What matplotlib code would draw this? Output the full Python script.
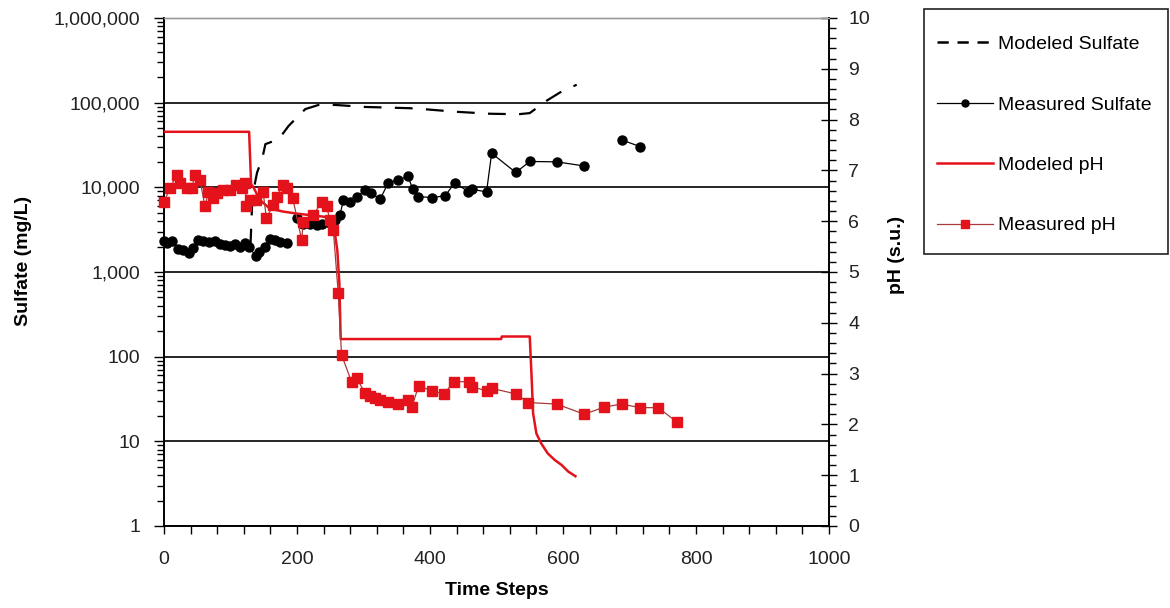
import numpy as np
import matplotlib.pyplot as plt
from matplotlib.ticker import FuncFormatter, MultipleLocator, LogLocator
from matplotlib.lines import Line2D
from matplotlib.patches import Rectangle

plt.rcParams['font.family'] = ['Liberation Sans', 'DejaVu Sans']
plt.rcParams['font.size'] = 14

nan = np.nan

# modeled sulfate (mg/L)
mod_so4_t = [130, 133, 140, 147.5, 152.5, 172.5, 187.5, 212.5, 232.5, 257.5, 302.5,
             347.5, 370, 397.5, 440, 490, 533, 550, 575, 595.5, 620.6]
mod_so4 = [2000, 8000, 15000, 21500, 32400, 37000, 53300, 84000, 94000, 94000, 89000,
           87000, 86000, 83000, 78000, 74000, 73000, 75300, 105000, 132000, 163000]

# measured sulfate (mg/L), nan = break in line
meas_so4_t = [0, 4, 11.5, 21.5, 29, 38, 44, 51.6, 59, 68, 76.7, 84, 91.7, 99, 106.8, 114,
              122, 128, 138, 143, 152, 159.4, 167, 174.4, 184.5, nan,
              199.5, 209.5, 219.5, 229.6, 237, 249.6, 257, 264.7, 269.6, 279.7, 289.7,
              302, 312, 325, 337, 352, 367, 374, 382, 402.5, 422.6, 437.6, 457.6, 462.7,
              485, 492.7, 529, 550, 590.5, 631.6, nan, 688, 715.8]
meas_so4 = [2335, 2210, 2335, 1850, 1815, 1690, 1900, 2380, 2335, 2270, 2335, 2135, 2080,
            2025, 2135, 1985, 2180, 1985, 1540, 1735, 1985, 2425, 2380, 2270, 2180, nan,
            4300, 3680, 3680, 3580, 3680, 3810, 4100, 4700, 7060, 6750, 7730,
            9270, 8610, 7200, 11300, 12160, 13550, 9440, 7780, 7570, 7930, 11400, 8830, 9500,
            8830, 25300, 14970, 20200, 20000, 17900, nan, 36400, 30300]

# modeled pH
mod_ph_t = [0, 128, 131, 134, 144, 159, 179, 199.5, 219.5, 239.5, 252, 257, 260.6, 263.7,
            265.7, 507, 508, 550, 553, 555, 560, 567, 577, 587.5, 598, 608, 618.7]
mod_ph = [7.76, 7.76, 6.72, 6.68, 6.42, 6.25, 6.19, 6.15, 6.12, 6.09, 6.06, 5.76, 5.43, 4.78,
          3.68, 3.68, 3.73, 3.73, 2.87, 2.22, 1.82, 1.63, 1.43, 1.30, 1.20, 1.07, 0.98]

# measured pH
meas_ph_t = [0, 9, 19, 24, 34, 41.6, 46.6, 54, 61.7, 66.7, 74, 79, 89, 99, 109, 117, 122, 124,
             129, 139, 149, 154, 164, 169.5, 179, 184.5, 193.5, 207, 209.5, 224.5, 237, 244.6,
             249.6, 254.6, 262, 267, 282, 290, 302, 310, 317, 325, 337, 352, 367, 372.5, 383,
             402.5, 421, 436, 458.6, 463.6, 485, 492.7, 529, 548, 590.5, 632, 661.7, 688, 716,
             743, 771]
meas_ph = [6.38, 6.65, 6.91, 6.75, 6.65, 6.65, 6.91, 6.81, 6.29, 6.58, 6.45, 6.55, 6.61, 6.61,
           6.71, 6.65, 6.75, 6.29, 6.42, 6.42, 6.58, 6.06, 6.32, 6.48, 6.71, 6.65, 6.46, 5.63,
           5.99, 6.12, 6.38, 6.29, 6.02, 5.83, 4.58, 3.37, 2.84, 2.91, 2.62, 2.55, 2.51, 2.48,
           2.45, 2.40, 2.48, 2.34, 2.76, 2.66, 2.60, 2.84, 2.84, 2.74, 2.66, 2.71, 2.60, 2.43,
           2.40, 2.20, 2.34, 2.40, 2.33, 2.33, 2.05]

fig = plt.figure(figsize=(11.7, 6.08), dpi=100)
ax = fig.add_axes([164 / 1170, 1 - 526 / 608, (829 - 164) / 1170, (526 - 18) / 608])
ax2 = ax.twinx()

red = '#e3121b'

ax.plot(mod_so4_t, mod_so4, color='black', lw=1.6, dashes=(8, 6), zorder=3)
ax.plot(meas_so4_t, meas_so4, color='black', lw=0.9, marker='o', ms=6.5,
        clip_on=False, zorder=4)
ax2.plot(mod_ph_t, mod_ph, color=red, lw=1.8, zorder=3)
ax2.plot(meas_ph_t, meas_ph, color='#a83a3a', lw=0.9, marker='s', ms=6.5,
         mfc=red, mec=red, clip_on=False, zorder=4)

ax.set_yscale('log')
ax.set_ylim(1, 1e6)
ax.set_xlim(0, 1000)
ax2.set_ylim(0, 10)

ax.yaxis.set_major_formatter(FuncFormatter(lambda v, p: f'{v:,.0f}'))
ax.yaxis.set_minor_locator(LogLocator(base=10, subs=np.arange(2, 10)))
ax.yaxis.set_minor_formatter(FuncFormatter(lambda v, p: ''))
ax.xaxis.set_major_locator(MultipleLocator(200))
ax.xaxis.set_minor_locator(MultipleLocator(40))
ax2.yaxis.set_major_locator(MultipleLocator(1))
ax2.yaxis.set_minor_locator(MultipleLocator(0.2))

ax.grid(True, which='major', axis='y', color='black', lw=1.2)
ax.set_axisbelow(True)

ax.tick_params(axis='y', which='major', direction='out', length=7, width=1, pad=10,
               labelcolor='#222222')
ax.tick_params(axis='y', which='minor', direction='out', length=5, width=1)
ax.tick_params(axis='x', which='both', direction='out', length=6, width=1, pad=12,
               labelcolor='#222222')
ax2.tick_params(axis='y', which='major', direction='inout', length=12, width=1, pad=8,
                labelcolor='#222222')
ax2.tick_params(axis='y', which='minor', direction='out', length=5, width=1)

for a in (ax, ax2):
    a.spines['top'].set_color('#9a9a9a')
    a.spines['top'].set_linewidth(1)
    for s in ('left', 'right', 'bottom'):
        a.spines[s].set_linewidth(1.2)

ax.set_xlabel('Time Steps', fontweight='bold', labelpad=10)
ax.set_ylabel('Sulfate (mg/L)', fontweight='bold')
ax2.set_ylabel('pH (s.u.)', fontweight='bold')
ax.yaxis.set_label_coords(-0.199, 0.522)
ax2.yaxis.set_label_coords(1.089, 0.533)

handles = [
    Line2D([], [], color='black', lw=1.8, dashes=(4.5, 3.5)),
    Line2D([], [], color='black', lw=0.9, marker='o', ms=5),
    Line2D([], [], color=red, lw=1.8),
    Line2D([], [], color='#a83a3a', lw=0.9, marker='s', ms=5.5, mfc=red, mec=red),
]
labels = ['Modeled Sulfate', 'Measured Sulfate', 'Modeled pH', 'Measured pH']
fig.legend(handles, labels, loc='upper left', bbox_to_anchor=(921 / 1170, 1 - 20 / 608),
           frameon=False, handlelength=2.9, handletextpad=0.25, labelspacing=2.2,
           borderpad=0.3, fontsize=14)
fig.patches.append(Rectangle((924 / 1170, 1 - 254 / 608), (1168 - 924) / 1170,
                             (254 - 9) / 608, transform=fig.transFigure,
                             fill=False, edgecolor='#222222', lw=1.2))

fig.savefig('out.png', dpi=100)
